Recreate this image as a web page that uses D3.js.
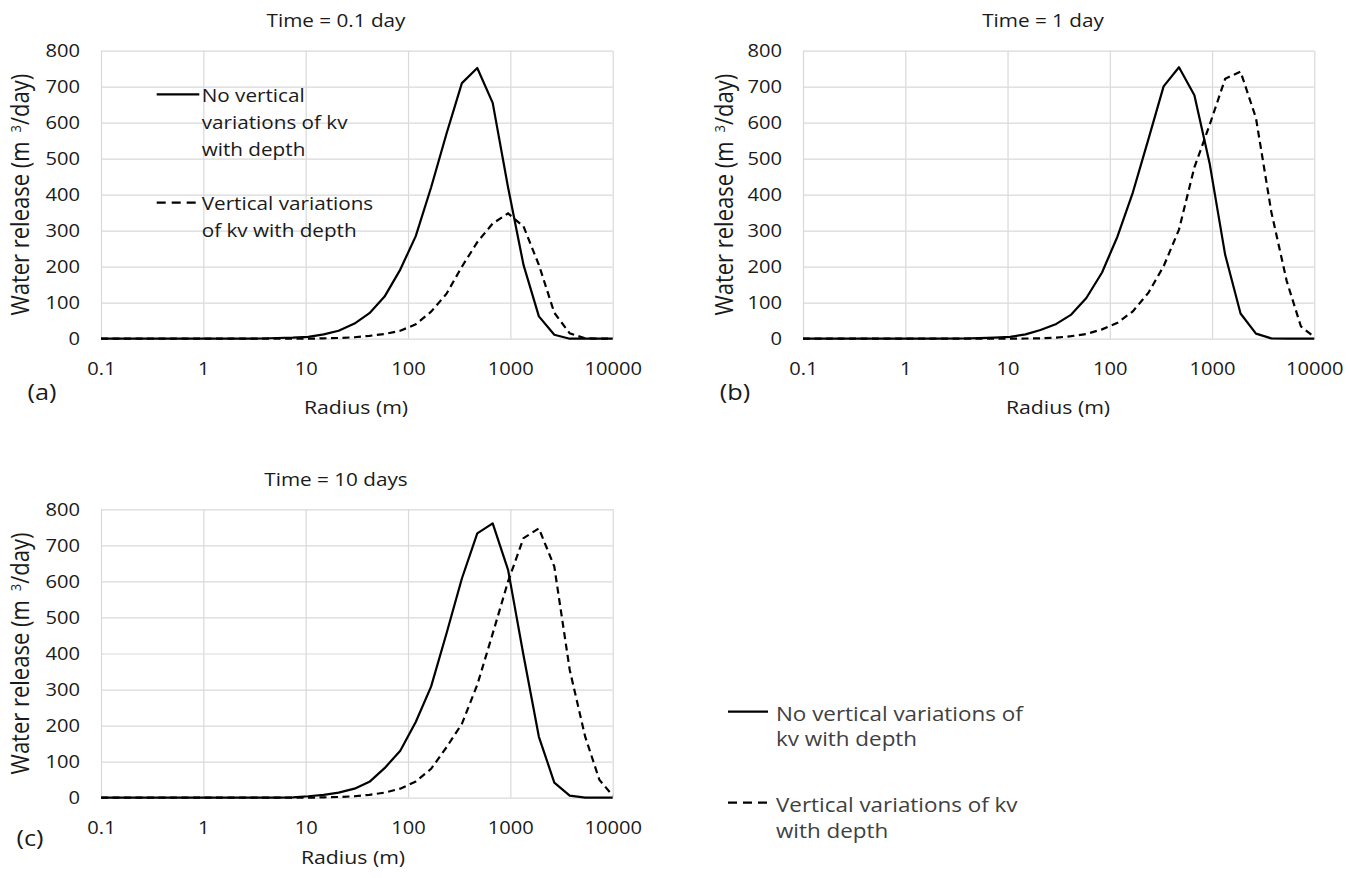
<!DOCTYPE html>
<html>
<head>
<meta charset="utf-8">
<script src="https://cdn.jsdelivr.net/npm/d3@7/dist/d3.min.js"></script>
<style>
  body { margin: 0; background: #fff; }
  svg { font-family: "Open Sans", sans-serif; }
</style>
</head>
<body>
<svg id="chart" width="1351" height="878"></svg>
<script>
// radius of each model ring (m)
var radius = [0.1, 0.2, 0.5, 1, 2, 3.7, 5.3, 7.5, 10.6, 15, 21, 30, 42, 59, 84, 119, 168, 238,
              336, 475, 672, 950, 1344, 1900, 2688, 3800, 5375, 7400, 10000];

// water release (m3/day)
var noVar01 = [0, 0, 0, 0, 0, 0.5, 2, 3, 5, 12, 22, 42, 71, 117, 192, 285, 420, 570,
               710, 752, 655, 420, 205, 62, 11, 0, 0, 0, 0];
var withVar01 = [0, 0, 0, 0, 0, 0, 0, 0, 0, 1, 2, 4, 8, 13, 22, 40, 75, 125,
                 200, 268, 320, 348, 312, 205, 72, 15, 1, 0, 0];
var noVar1 = [0, 0, 0, 0, 0, 0.5, 1.5, 3, 5, 12, 24, 41, 67, 113, 184, 284, 406, 553,
              701, 754, 676, 485, 233, 70, 14, 1, 0, 0, 0];
var withVar1 = [0, 0, 0, 0, 0, 0, 0, 0, 0, 0.5, 1, 3, 7, 13, 26, 44, 76, 127,
                201, 303, 476, 595, 722, 742, 613, 352, 160, 34, 5];
var noVar10 = [0, 0, 0, 0, 0, 0, 0, 1, 4, 8, 14, 25, 44, 82, 130, 210, 308, 456,
               608, 733, 761, 632, 395, 169, 42, 6, 0, 0, 0];
var withVar10 = [0, 0, 0, 0, 0, 0, 0, 0, 0, 1, 2, 4, 8, 14, 25, 45, 80, 140,
                 205, 313, 455, 600, 720, 747, 641, 355, 170, 50, 6];

var xTicks = [0.1, 1, 10, 100, 1000, 10000];
var yTicks = [0, 100, 200, 300, 400, 500, 600, 700, 800];
var titles = ["Time = 0.1 day", "Time = 1 day", "Time = 10 days"];
var panelTags = ["(a)", "(b)", "(c)"];

var svg = d3.select("#chart");
var ink = "#1a1a1a";
var sx = 1.15; // the figure's lettering is a little wide

var panels = [
  { left: 101, right: 612.7, top: 50.7, bottom: 338.7, titleX: 336, titleY: 27, xLabX: 356, xLabY: 414,
    yLabX: 29, tagX: 42, tagY: 400, solid: noVar01, dashed: withVar01 },
  { left: 803, right: 1314.3, top: 50.7, bottom: 338.7, titleX: 1043, titleY: 27, xLabX: 1058, xLabY: 414,
    yLabX: 733, tagX: 735, tagY: 400, solid: noVar1, dashed: withVar1 },
  { left: 101, right: 612.7, top: 509.3, bottom: 797.7, titleX: 336, titleY: 486, xLabX: 353, xLabY: 864,
    yLabX: 29, tagX: 30, tagY: 846, solid: noVar10, dashed: withVar10 }
];

function label(g, x, y, str, size, anchor, color) {
  return g.append("text")
    .attr("transform", "translate(" + x + "," + y + ") scale(" + sx + ",1)")
    .attr("text-anchor", anchor || "start")
    .attr("font-size", size)
    .attr("fill", color || ink)
    .text(str);
}

panels.forEach(function(p, i) {
  var width = p.right - p.left,
      height = p.bottom - p.top;

  var g = svg.append("g")
    .attr("transform", "translate(" + p.left + "," + p.top + ")");

  var xScale = d3.scaleLog().domain([0.1, 10000]).range([0, width]);
  var yScale = d3.scaleLinear().domain([0, 800]).range([height, 0]);

  // vertical grid + radius labels
  var xAxis = d3.axisBottom(xScale)
    .tickValues(xTicks)
    .tickSize(-height)
    .tickFormat(function(d) { return d < 1 ? "0.1" : d3.format("d")(d); });
  g.append("g")
    .attr("class", "axis x-axis")
    .attr("transform", "translate(0," + height + ")")
    .call(xAxis);

  // horizontal grid + release labels
  var yAxis = d3.axisLeft(yScale)
    .tickValues(yTicks)
    .tickSize(-width);
  g.append("g")
    .attr("class", "axis y-axis")
    .call(yAxis);

  g.selectAll(".domain").remove();
  g.selectAll(".tick line").attr("stroke", "#d9d9d9").attr("stroke-width", 1.2);
  g.selectAll(".x-axis .tick text")
    .attr("y", 36.3).attr("dy", 0)
    .attr("transform", "scale(" + sx + ",1)")
    .attr("font-size", 17.5).attr("font-family", "Open Sans").attr("fill", ink);
  g.selectAll(".y-axis .tick text")
    .attr("x", -21 / sx).attr("dy", 6.2)
    .attr("transform", "scale(" + sx + ",1)")
    .attr("font-size", 17.5).attr("font-family", "Open Sans").attr("fill", ink);

  var line = d3.line()
    .x(function(d) { return xScale(d[0]); })
    .y(function(d) { return yScale(d[1]); });

  g.append("path")
    .datum(d3.zip(radius, p.dashed))
    .attr("d", line)
    .attr("fill", "none")
    .attr("stroke", "#000")
    .attr("stroke-width", 2.2)
    .attr("stroke-dasharray", "7,4.5");

  g.append("path")
    .datum(d3.zip(radius, p.solid))
    .attr("d", line)
    .attr("fill", "none")
    .attr("stroke", "#000")
    .attr("stroke-width", 2.2)
    .attr("stroke-linejoin", "round");

  label(svg, p.titleX, p.titleY, titles[i], 18, "middle");
  label(svg, p.xLabX, p.xLabY, "Radius (m)", 18.5, "middle");
  label(svg, p.tagX, p.tagY, panelTags[i], 22, "middle");

  var yl = svg.append("text")
    .attr("transform", "translate(" + p.yLabX + "," + (p.top + p.bottom) / 2 + ") scale(" + sx + ",1) rotate(-90)")
    .attr("text-anchor", "middle")
    .attr("font-size", 22)
    .attr("fill", ink);
  yl.append("tspan").text("Water release (m");
  yl.append("tspan").attr("dx", 9).attr("dy", -7).attr("font-size", 13).text("3");
  yl.append("tspan").attr("dy", 7).text("/day)");
});

// legend inside panel (a)
var legA = svg.append("g");
legA.append("line").attr("x1", 156.7).attr("x2", 199.3).attr("y1", 94.3).attr("y2", 94.3)
  .attr("stroke", "#000").attr("stroke-width", 2.2);
label(legA, 201.7, 101.5, "No vertical", 18);
label(legA, 201.7, 128.5, "variations of kv", 18);
label(legA, 201.7, 155.5, "with depth", 18);
legA.append("line").attr("x1", 156.7).attr("x2", 199.3).attr("y1", 202.7).attr("y2", 202.7)
  .attr("stroke", "#000").attr("stroke-width", 2.2).attr("stroke-dasharray", "9,6");
label(legA, 201.7, 209.5, "Vertical variations", 18);
label(legA, 201.7, 236.5, "of kv with depth", 18);

// stand-alone legend, lower right
var leg = svg.append("g");
var grey = "#404040";
leg.append("line").attr("x1", 728).attr("x2", 768).attr("y1", 711.7).attr("y2", 711.7)
  .attr("stroke", "#000").attr("stroke-width", 2.2);
label(leg, 776, 720.7, "No vertical variations of", 19.5, "start", grey);
label(leg, 776, 745.7, "kv with depth", 19.5, "start", grey);
leg.append("line").attr("x1", 728).attr("x2", 767).attr("y1", 802.7).attr("y2", 802.7)
  .attr("stroke", "#000").attr("stroke-width", 2.2).attr("stroke-dasharray", "9,6");
label(leg, 776, 811.7, "Vertical variations of kv", 19.5, "start", grey);
label(leg, 776, 838.3, "with depth", 19.5, "start", grey);
</script>
</body>
</html>
